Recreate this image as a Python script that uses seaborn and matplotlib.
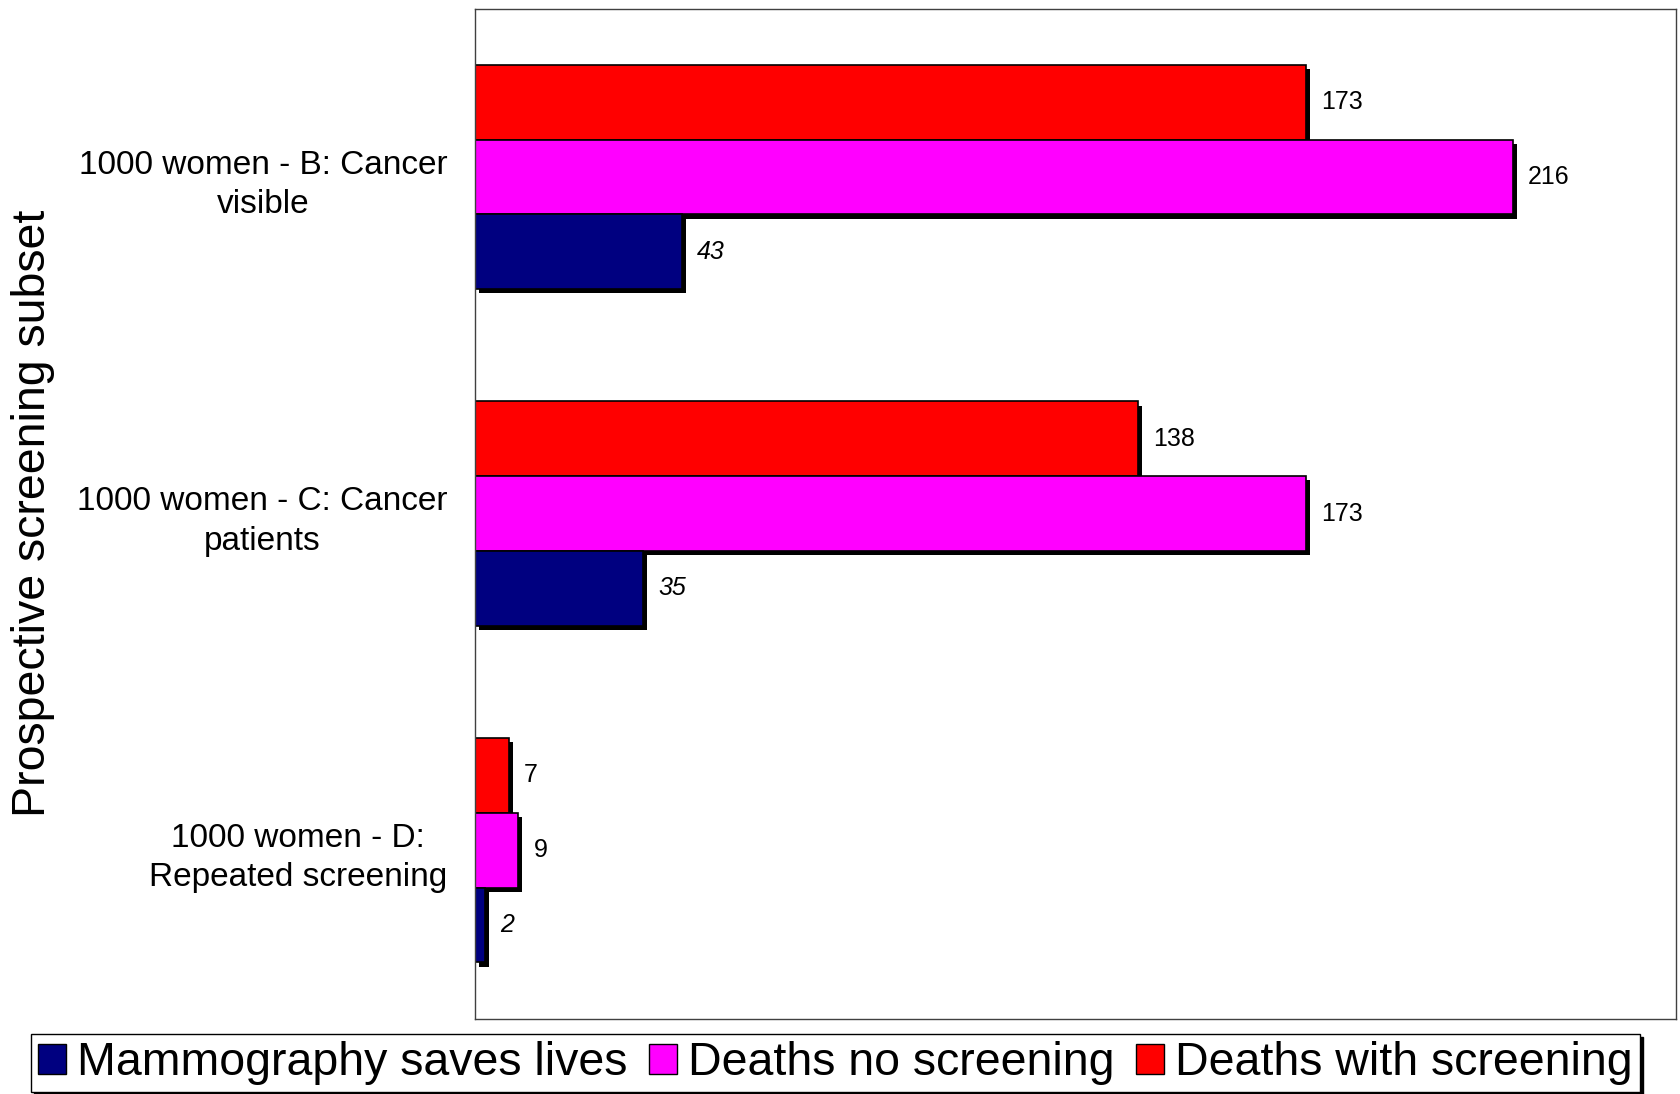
import matplotlib
matplotlib.use("Agg")
import matplotlib.pyplot as plt
import matplotlib.patheffects as pe
from matplotlib.patches import Patch
import seaborn as sns
import pandas as pd

subsets = ["1000 women - B: Cancer\nvisible",
           "1000 women - C: Cancer\npatients",
           "1000 women - D:\nRepeated screening"]
series = ["Mammography saves lives", "Deaths no screening", "Deaths with screening"]
saves_lives = [43, 35, 2]
deaths_no_screening = [216, 173, 9]
deaths_with_screening = [173, 138, 7]
colors = {"Mammography saves lives": "#000080",
          "Deaths no screening": "#FF00FF",
          "Deaths with screening": "#FF0000"}

rows = []
for name, vals in zip(series, [saves_lives, deaths_no_screening, deaths_with_screening]):
    for s, v in zip(subsets, vals):
        rows.append({"subset": s, "series": name, "value": v})
df = pd.DataFrame(rows)

sns.set_theme(style="white")
plt.rcParams['font.family'] = ['Liberation Sans', 'DejaVu Sans']
plt.rcParams['text.color'] = 'black'
plt.rcParams['axes.labelcolor'] = 'black'
plt.rcParams['ytick.color'] = 'black'

fig = plt.figure(figsize=(16.81, 10.94), dpi=100)
ax = fig.add_axes([0.2826, 0.069, 0.7144, 0.923])

draw_order = ["Deaths with screening", "Deaths no screening", "Mammography saves lives"]
sns.barplot(data=df, x="value", y="subset", hue="series", hue_order=draw_order,
            order=subsets, palette=colors, width=0.667, edgecolor="black",
            linewidth=1.2, legend=False, ax=ax, saturation=1)

for p in ax.patches:
    p.set_path_effects([pe.SimplePatchShadow(offset=(3, -3), shadow_rgbFace="black", alpha=1),
                        pe.Normal()])

for cont, name in zip(ax.containers, draw_order):
    style = "italic" if name == "Mammography saves lives" else "normal"
    ax.bar_label(cont, labels=[str(int(v)) for v in cont.datavalues], padding=11,
                 fontsize=18, fontstyle=style, color="black")

ax.set_xlim(0, 250)
ax.set_ylim(2.5, -0.5)
ax.set_xticks([])
ax.set_xlabel("")
ax.set_ylabel("Prospective screening subset", fontsize=33.5, labelpad=16)
ax.tick_params(axis="y", length=0, labelsize=24, pad=20)
for lbl in ax.get_yticklabels():
    lbl.set_multialignment("center")
    lbl.set_linespacing(1.35)
for sp in ax.spines.values():
    sp.set_color("#404040")
    sp.set_linewidth(1)

handles = [Patch(facecolor=colors[s], edgecolor="black", linewidth=1) for s in series]
leg = fig.legend(handles, series, loc="center", bbox_to_anchor=(0.497, 0.028),
                 ncol=3, frameon=True, fancybox=False,
                 edgecolor="black", handlelength=0.6, handleheight=0.6,
                 handletextpad=0.25, columnspacing=0.45, borderpad=0.15,
                 shadow={"color": "black", "alpha": 1},
                 prop={"family": ["Liberation Sans"], "size": 33.5})
leg.get_frame().set_linewidth(1)

fig.savefig("out.png", dpi=100)
